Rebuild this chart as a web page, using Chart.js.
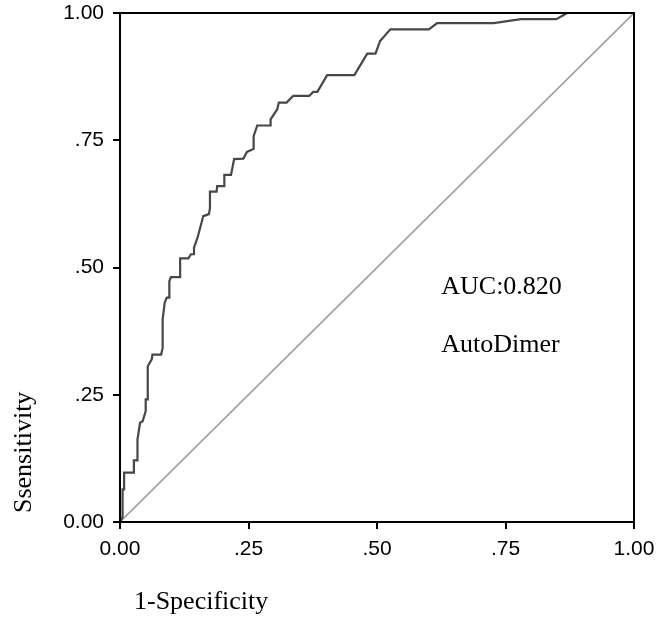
<!DOCTYPE html>
<html>
<head>
<meta charset="utf-8">
<script src="https://cdn.jsdelivr.net/npm/chart.js@4"></script>
<style>
  body { margin: 0; background: #fff; }
  #wrap { width: 660px; height: 630px; }
</style>
</head>
<body>
<div id="wrap"><canvas id="rocChart" width="660" height="630"></canvas></div>
<script>
// ROC curve points (1-specificity, sensitivity)
const fpr = [0, 0.005, 0.005, 0.008, 0.008, 0.027, 0.027, 0.034, 0.034, 0.039, 0.044, 0.050, 0.050, 0.054, 0.054,
  0.062, 0.063, 0.080, 0.083, 0.083, 0.087, 0.091, 0.096, 0.096, 0.099, 0.117, 0.117, 0.133, 0.138, 0.144,
  0.144, 0.151, 0.162, 0.173, 0.175, 0.175, 0.188, 0.189, 0.203, 0.203, 0.216, 0.222, 0.240, 0.247, 0.260,
  0.260, 0.267, 0.293, 0.293, 0.306, 0.309, 0.324, 0.337, 0.368, 0.376, 0.384, 0.403, 0.456, 0.481, 0.497,
  0.506, 0.526, 0.601, 0.617, 0.727, 0.780, 0.849, 0.870, 1.0];
const tpr = [0, 0.010, 0.064, 0.064, 0.097, 0.097, 0.121, 0.121, 0.162, 0.195, 0.198, 0.218, 0.241, 0.241, 0.306,
  0.320, 0.329, 0.329, 0.342, 0.398, 0.431, 0.441, 0.441, 0.473, 0.481, 0.481, 0.518, 0.518, 0.526, 0.526,
  0.539, 0.559, 0.601, 0.605, 0.616, 0.649, 0.649, 0.660, 0.660, 0.682, 0.682, 0.713, 0.714, 0.727, 0.733,
  0.758, 0.779, 0.779, 0.791, 0.811, 0.824, 0.824, 0.837, 0.837, 0.845, 0.845, 0.878, 0.878, 0.920, 0.920,
  0.945, 0.968, 0.968, 0.980, 0.980, 0.988, 0.988, 1.0, 1.0];
const refLine = [0, 1];
const tickValues = [0, 0.25, 0.5, 0.75, 1];
const tickLabels = ['0.00', '.25', '.50', '.75', '1.00'];
const xTitle = '1-Specificity';
const yTitle = 'Ssensitivity';
const notes = ['AUC:0.820', 'AutoDimer'];

const serif = '"Liberation Serif", "Times New Roman", serif';

// frame, axis titles and the AUC note
const extras = {
    id: 'extras',
    afterDatasetsDraw(chart) {
        const ctx = chart.ctx;
        const a = chart.chartArea;
        const xs = chart.scales.x, ys = chart.scales.y;
        ctx.save();
        ctx.strokeStyle = '#000';
        ctx.lineWidth = 2;
        ctx.strokeRect(a.left, a.top, a.right - a.left, a.bottom - a.top);

        ctx.fillStyle = '#000';
        ctx.font = '26px ' + serif;
        ctx.textAlign = 'left';
        ctx.textBaseline = 'alphabetic';
        ctx.fillText(notes[0], xs.getPixelForValue(0.625), ys.getPixelForValue(0.448));
        ctx.fillText(notes[1], xs.getPixelForValue(0.625), ys.getPixelForValue(0.334));

        ctx.fillText(xTitle, a.left + 14, a.bottom + 87);

        ctx.translate(31, a.bottom - 9);
        ctx.rotate(-Math.PI / 2);
        ctx.fillText(yTitle, 0, 0);
        ctx.restore();
    }
};

const axisCommon = {
    type: 'linear',
    min: 0,
    max: 1,
    afterBuildTicks: scale => { scale.ticks = tickValues.map(v => ({ value: v })); },
    ticks: {
        color: '#000',
        font: { family: '"Liberation Sans", Arial, sans-serif', size: 21 },
        callback: (v) => tickLabels[tickValues.indexOf(v)]
    },
    grid: { drawOnChartArea: false, color: '#000', lineWidth: 2, tickLength: 7 },
    border: { color: '#000', width: 2 }
};

new Chart(document.getElementById('rocChart').getContext('2d'), {
    type: 'line',
    data: {
        datasets: [
            {
                label: 'ROC',
                data: fpr.map((x, i) => ({ x: x, y: tpr[i] })),
                borderColor: '#474747',
                borderWidth: 2.2,
                pointRadius: 0,
                fill: false,
                tension: 0
            },
            {
                label: 'Reference',
                data: refLine.map(v => ({ x: v, y: v })),
                borderColor: '#a0a0a0',
                borderWidth: 1.6,
                pointRadius: 0,
                fill: false
            }
        ]
    },
    options: {
        responsive: false,
        animation: false,
        layout: { padding: { top: 13, right: 26, bottom: 0, left: 0 } },
        plugins: { legend: { display: false }, tooltip: { enabled: false } },
        scales: {
            x: Object.assign({}, axisCommon, {
                ticks: Object.assign({}, axisCommon.ticks, { padding: 8, maxRotation: 0 }),
                afterFit: s => { s.height = 108; s.paddingLeft = 0; s.paddingRight = 0; }
            }),
            y: Object.assign({}, axisCommon, {
                ticks: Object.assign({}, axisCommon.ticks, { padding: 9 }),
                afterFit: s => { s.width = 120; s.paddingTop = 0; s.paddingBottom = 0; }
            })
        }
    },
    plugins: [extras]
});
</script>
</body>
</html>
